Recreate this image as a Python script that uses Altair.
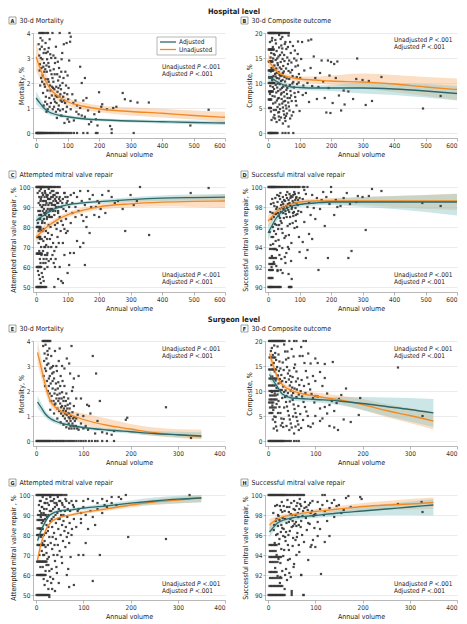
import altair as alt
import pandas as pd

FONT = "Liberation Sans Narrow, DejaVu Sans Condensed, Liberation Sans, sans-serif"
TEAL = "#2d6869"
ORANGE = "#f28a24"
TEAL_BAND = "#8fc8ca"
ORANGE_BAND = "#f7b57c"
PT = "#333333"
W, H = 192, 105


def row(y, xs):
    return [(x, y) for x in xs]


# ---------------- Panel A: hospital, 30-d mortality ----------------
A_PTS = (row(0, [1, 2, 4, 5, 7, 9, 10, 12, 14, 16, 18, 20, 22, 24, 27, 29, 32, 35, 38, 41, 44, 47, 50, 54, 57, 61, 65, 69, 73, 78, 83, 88, 94, 100, 106, 112, 120, 130, 150, 163, 190, 195, 240, 310])
         + row(4, [10, 14, 18, 22, 27, 33, 38, 52, 75, 106])
         + [(140, 2.65), (155, 2.2), (145, 2.0), (200, 1.63), (275, 1.6), (282, 1.35), (300, 1.28), (322, 1.22), (358, 1.22), (548, 0.93), (490, 0.3),
            (207, 1.05), (210, 1.15), (225, 0.95), (245, 1.0), (255, 1.05), (185, 0.75), (190, 0.55), (200, 0.85), (175, 0.45), (168, 0.35), (195, 0.3),
            (235, 0.28), (240, 0.15), (120, 0.5), (100, 0.55), (105, 0.45), (95, 0.85), (85, 0.95), (90, 0.4), (130, 1.1), (140, 1.0), (150, 1.3),
            (160, 1.4), (165, 0.9), (125, 1.3), (115, 1.55), (108, 3.65), (110, 3.85), (105, 2.9), (100, 2.3), (95, 1.9), (90, 1.6), (88, 3.55),
            (80, 2.45), (78, 1.3), (70, 2.1), (65, 1.2), (60, 2.8), (55, 3.1), (50, 1.5), (48, 3.0), (45, 2.5), (42, 1.4), (40, 3.4), (38, 2.15),
            (35, 1.15), (33, 2.7), (30, 3.6), (28, 1.85), (26, 2.45), (24, 3.2), (22, 1.6), (20, 2.95), (18, 3.45), (16, 2.2), (14, 3.8), (12, 2.75),
            (10, 3.1), (8, 3.55), (36, 1.7), (44, 1.9), (52, 2.2), (58, 1.75), (62, 1.5), (68, 1.65), (72, 1.1), (76, 1.9), (82, 1.25), (86, 1.45),
            (92, 1.2), (98, 1.05), (102, 1.35), (110, 0.95), (118, 1.2), (128, 0.85), (135, 0.75), (145, 0.7), (155, 0.65), (47, 1.2), (53, 0.95),
            (57, 1.35), (63, 0.85), (67, 2.35), (73, 2.6), (77, 1.55), (84, 2.0), (30, 2.15), (34, 2.45), (26, 1.95), (21, 2.3), (17, 2.6), (15, 3.0),
            (12, 3.35), (40, 2.05), (46, 1.7), (56, 2.55), (64, 1.85), (74, 1.45), (54, 1.8), (60, 1.25), (70, 0.95), (80, 0.7), (25, 2.8), (32, 3.2),
            (39, 2.8), (20, 3.7), (43, 3.75), (63, 3.45), (83, 3.2), (97, 3.6),
            (11, 2.5), (13, 1.9), (19, 2.05), (23, 2.65), (27, 3.35), (29, 2.55), (31, 1.45), (35, 2.95), (37, 3.25), (41, 2.65), (45, 3.15),
            (49, 2.35), (51, 1.85), (55, 2.05), (59, 2.35), (61, 3.0), (66, 1.45), (69, 2.85), (71, 1.8), (75, 2.25), (79, 1.75), (81, 2.95),
            (87, 2.2), (93, 2.45), (99, 1.55), (103, 1.8), (57, 1.05), (43, 1.05), (37, 0.95), (29, 1.25), (24, 1.1), (33, 0.85), (66, 0.6),
            (76, 0.9), (89, 1.3)])
A_CX = [0, 10, 20, 30, 40, 50, 75, 100, 150, 200, 300, 400, 500, 600]
A_UN = [3.05, 2.68, 2.35, 2.09, 1.86, 1.69, 1.43, 1.25, 1.07, 0.96, 0.86, 0.79, 0.70, 0.63]
A_UN_LO = [2.50, 2.22, 1.98, 1.78, 1.60, 1.47, 1.26, 1.10, 0.93, 0.83, 0.70, 0.62, 0.54, 0.46]
A_UN_HI = [3.62, 3.15, 2.73, 2.42, 2.13, 1.92, 1.61, 1.41, 1.22, 1.10, 1.03, 0.97, 0.90, 0.85]
A_AD = [1.40, 1.23, 1.07, 0.94, 0.85, 0.79, 0.70, 0.65, 0.57, 0.53, 0.48, 0.45, 0.42, 0.40]
A_AD_LO = [1.15, 1.03, 0.91, 0.81, 0.74, 0.69, 0.62, 0.58, 0.51, 0.47, 0.42, 0.38, 0.35, 0.32]
A_AD_HI = [1.66, 1.44, 1.24, 1.08, 0.97, 0.89, 0.78, 0.72, 0.64, 0.59, 0.55, 0.52, 0.50, 0.48]

# ---------------- Panel B: hospital, composite ----------------
B_PTS = (row(20, [1, 3, 5, 7, 9, 11, 13, 15, 17, 19, 21, 23, 25, 28, 31, 34, 37, 40, 43, 46, 50, 54, 58, 62, 66])
         + row(0, [1, 3, 5, 7, 9, 11, 13, 15, 18, 21, 24, 27, 30, 46, 55, 65, 80])
         + row(16.7, [2, 4, 6, 8, 10, 12, 14, 16, 18]) + row(14.3, [2, 4, 6, 8, 10, 12, 14])
         + row(12.5, [2, 4, 6, 8, 10, 12, 14, 16]) + row(11.1, [3, 5, 7, 9, 11, 13])
         + row(10, [2, 4, 6, 8, 10, 12, 14, 16, 18, 20]) + row(8.3, [3, 5, 7, 9, 11, 13, 15])
         + row(6.7, [2, 4, 6, 8, 10]) + row(5, [3, 5, 7, 9])
         + [(12, 18.5), (15, 17.2), (18, 15.8), (20, 13.5), (22, 11.8), (24, 9.6), (26, 8.1), (28, 6.5), (30, 5.2), (32, 4.1), (34, 3.3), (36, 2.6),
            (14, 7.4), (16, 5.9), (18, 4.6), (20, 3.6), (22, 2.9), (25, 17.9), (27, 16.4), (29, 14.9), (31, 13.6), (33, 12.2), (35, 10.9), (37, 9.8),
            (39, 8.7), (41, 7.7), (43, 6.8), (45, 5.9), (47, 5.1), (49, 4.4), (51, 3.7), (53, 3.0), (55, 2.4), (40, 18.8), (42, 17.5), (44, 16.1),
            (46, 14.8), (48, 13.4), (50, 12.3), (52, 11.2), (54, 10.3), (56, 9.5), (58, 8.6), (60, 7.8), (62, 7.0), (64, 6.1), (66, 5.3), (68, 4.5),
            (70, 18.2), (72, 16.0), (74, 14.1), (76, 12.6), (78, 11.4), (80, 10.2), (82, 9.1), (84, 8.0), (86, 7.2), (88, 6.4), (90, 5.5), (10, 16.0),
            (11, 13.0), (13, 10.6), (15, 9.2), (17, 11.4), (19, 8.8), (21, 7.3), (23, 6.1), (24, 14.6), (26, 12.9), (28, 11.0), (30, 9.9), (32, 8.4),
            (34, 7.0), (36, 5.7), (38, 4.8), (38, 15.6), (40, 14.2), (42, 12.8), (44, 11.5), (46, 10.6), (48, 9.3), (50, 8.2), (52, 7.3), (54, 6.4),
            (56, 5.5), (58, 4.9), (60, 3.9), (58, 16.8), (61, 15.1), (63, 13.8), (65, 12.4), (67, 10.8), (69, 9.6), (71, 8.4), (73, 7.5), (75, 6.4),
            (65, 19.5), (55, 18.2), (45, 19.2), (35, 19.6), (95, 13.5), (98, 11.8), (92, 9.8), (96, 8.2), (94, 15.8),
            (6, 18.2), (8, 15.1), (9, 12.3), (7, 9.4), (6, 7.8), (9, 4.3), (11, 2.6), (13, 19.0), (16, 14.9), (19, 12.7), (21, 15.6), (23, 18.6),
            (27, 12.0), (29, 9.1), (31, 6.9), (33, 15.3), (35, 17.1), (37, 13.1), (39, 11.4), (41, 10.4), (43, 8.0), (45, 16.9), (47, 12.0),
            (49, 6.3), (51, 15.6), (53, 17.8), (57, 12.9), (59, 10.9), (61, 9.0), (63, 17.2), (67, 14.5), (69, 7.0), (71, 12.1), (77, 9.9),
            (79, 17.4), (83, 14.9), (87, 13.3), (91, 11.2), (97, 10.1), (17, 3.1), (25, 4.6), (27, 2.2), (35, 4.2), (41, 3.1), (47, 1.9),
            (57, 3.4), (44, 9.0), (36, 11.7), (24, 11.3), (30, 14.0), (52, 14.4),
            (65, 1.3), (70, 2.9), (75, 3.5), (80, 4.2), (85, 16.5), (90, 14.5), (95, 18.3), (100, 4.4), (102, 11.0), (105, 14.8), (108, 18.2),
            (110, 7.6), (112, 9.5), (115, 12.5), (120, 8.0), (125, 10.0), (128, 18.5), (130, 6.2), (135, 13.0), (137, 18.7), (140, 9.4), (145, 15.3),
            (150, 11.0), (155, 6.8), (160, 9.2), (165, 12.0), (170, 14.5), (175, 10.3), (180, 7.0), (185, 4.1), (190, 14.5), (192, 9.0), (195, 11.5),
            (198, 4.0), (200, 14.2), (205, 6.0), (210, 13.8), (215, 11.0), (220, 14.3), (225, 7.5), (232, 4.5), (240, 8.5), (243, 5.7), (255, 8.3),
            (270, 6.8), (283, 14.9), (280, 10.8), (300, 10.6), (310, 5.6), (320, 10.4), (330, 6.4), (360, 11.2), (492, 4.9), (548, 7.4)])
B_CX = [0, 10, 25, 50, 75, 100, 150, 200, 300, 400, 500, 600]
B_UN = [14.6, 13.7, 12.5, 11.5, 11.1, 10.8, 10.6, 10.4, 10.2, 9.8, 9.2, 8.7]
B_UN_LO = [13.2, 12.6, 11.7, 10.9, 10.5, 10.2, 9.9, 9.6, 8.9, 8.2, 7.4, 6.6]
B_UN_HI = [16.0, 14.9, 13.4, 12.1, 11.6, 11.3, 11.3, 11.5, 11.9, 11.6, 11.2, 10.9]
B_AD = [11.3, 11.0, 10.4, 9.6, 9.2, 9.1, 9.0, 9.0, 9.0, 8.8, 8.4, 7.9]
B_AD_LO = [10.4, 10.2, 9.7, 9.0, 8.7, 8.6, 8.5, 8.4, 7.9, 7.6, 7.1, 6.5]
B_AD_HI = [12.2, 11.8, 11.1, 10.2, 9.7, 9.6, 9.5, 9.6, 10.1, 10.0, 9.8, 9.4]

# ---------------- Panel C: hospital, attempted repair ----------------
C_PTS = (row(100, [1, 3, 5, 7, 9, 11, 13, 15, 17, 19, 21, 23, 25, 27, 30, 33, 36, 39, 42, 45, 48, 52, 56, 60, 65, 70, 75])
         + row(50, [1, 3, 5, 7, 9, 11, 13, 15, 18, 21, 25, 28, 32, 58])
         + row(60, [2, 4, 6, 8, 10, 12, 14, 16]) + row(66.7, [2, 4, 6, 8, 10, 12, 14, 16, 18])
         + row(75, [3, 5, 7, 9, 11, 13]) + row(80, [2, 4, 6, 8, 10, 12, 14])
         + [(5, 97), (8, 92), (10, 95), (12, 88), (14, 93), (16, 86), (18, 90), (20, 83), (22, 96), (24, 79), (26, 87), (28, 75), (30, 91),
            (32, 71), (34, 84), (36, 67), (38, 94), (40, 63), (6, 58), (9, 56), (12, 54), (15, 52), (18, 57), (21, 55), (24, 53), (27, 59),
            (30, 62), (33, 64), (36, 60), (11, 98), (13, 84), (15, 94), (17, 78), (19, 90), (21, 88), (23, 73), (25, 84), (27, 82), (29, 97),
            (31, 78), (33, 92), (35, 74), (37, 89), (39, 70), (41, 86), (15, 99), (20, 97), (25, 93), (30, 87), (35, 95), (40, 81), (45, 89),
            (50, 85), (55, 93), (60, 81), (65, 79), (70, 88), (28, 98), (33, 96), (38, 77), (43, 92), (48, 95), (53, 88), (58, 86), (63, 90),
            (68, 82), (73, 94), (78, 78), (40, 99), (45, 97), (50, 91), (55, 98), (60, 91), (65, 95), (70, 87), (75, 85), (80, 83), (85, 81),
            (90, 79), (95, 77), (42, 85), (46, 80), (50, 76), (54, 72), (58, 68), (62, 64), (8, 72), (10, 68), (12, 64), (14, 62), (16, 70),
            (18, 74), (20, 78), (22, 68), (24, 64), (26, 70), (28, 66), (44, 74), (48, 70), (52, 66), (56, 62), (64, 70), (68, 75), (72, 72),
            (50, 98), (55, 96), (60, 94), (65, 97), (70, 92), (75, 95), (80, 90), (85, 94), (90, 97), (95, 88), (100, 93),
            (7, 88), (9, 84), (11, 79), (13, 91), (15, 86), (17, 95), (19, 82), (21, 93), (23, 91), (25, 89), (27, 95), (29, 86), (31, 93),
            (33, 88), (35, 85), (37, 96), (39, 91), (41, 94), (43, 88), (45, 94), (47, 85), (49, 92), (51, 89), (53, 95), (57, 91), (59, 96),
            (61, 88), (63, 93), (67, 92), (69, 97), (71, 90), (77, 93), (83, 92), (87, 89), (93, 95), (97, 92), (8, 78), (12, 74), (17, 66),
            (23, 62), (29, 70), (35, 66), (47, 64), (6, 82), (10, 86), (14, 79),
            (60, 60), (80, 53), (85, 52), (105, 61), (108, 67), (120, 67), (130, 73), (140, 70), (150, 72), (155, 61), (170, 77), (100, 78),
            (110, 82), (125, 85), (135, 88), (150, 83), (160, 85), (175, 90), (185, 86), (195, 93), (200, 92), (210, 96), (230, 98), (240, 95),
            (260, 93), (275, 89), (283, 78), (300, 96), (310, 91), (330, 100), (359, 76), (491, 97), (548, 99.5), (180, 96), (165, 98), (140, 98),
            (120, 97), (100, 95), (90, 97), (105, 90), (115, 92), (125, 90), (145, 93), (155, 91), (190, 90), (205, 89), (220, 87), (250, 92),
            (320, 93), (200, 85), (110, 96), (130, 95), (170, 94), (95, 84), (115, 87), (145, 86), (160, 80), (85, 72), (90, 66), (100, 57),
            (75, 60), (70, 54)])
C_CX = [0, 10, 25, 50, 75, 100, 150, 200, 300, 400, 500, 600]
C_AD = [83.1, 84.3, 85.9, 88.4, 90.1, 91.1, 92.1, 92.7, 93.7, 94.4, 94.7, 94.9]
C_AD_LO = [80.5, 82.2, 84.3, 87.3, 89.2, 90.3, 91.3, 91.8, 92.5, 93.0, 93.2, 93.3]
C_AD_HI = [85.7, 86.4, 87.5, 89.5, 91.0, 91.9, 92.9, 93.6, 94.9, 95.8, 96.2, 96.5]
C_UN = [74.8, 76.5, 78.8, 81.8, 84.3, 86.1, 88.4, 90.1, 91.6, 92.4, 92.8, 93.0]
C_UN_LO = [72.2, 74.2, 76.8, 80.3, 83.0, 84.8, 87.1, 88.6, 89.8, 90.2, 90.0, 89.5]
C_UN_HI = [77.4, 78.8, 80.8, 83.3, 85.6, 87.4, 89.7, 91.6, 93.4, 94.6, 95.6, 96.5]

# ---------------- Panel D: hospital, successful repair ----------------
D_PTS = (row(100, [1, 3, 5, 7, 9, 11, 13, 15, 17, 19, 21, 23, 25, 28, 31, 34, 37, 40, 44, 48, 52, 56, 60, 65, 70, 75, 80, 85, 90, 95, 100, 110, 115, 125])
         + row(90, [1, 3, 5, 7, 9, 11, 13, 16, 19, 22, 25, 28, 31, 34, 37, 40, 66, 68, 70, 72, 74])
         + row(90.9, [2, 5, 8, 11, 14]) + row(91.7, [3, 6, 9, 12, 15, 30, 40]) + row(92.3, [4, 8, 12, 16, 20])
         + row(92.9, [5, 10, 15, 20, 25]) + row(93.8, [6, 12, 18, 24])
         + [(5, 95.5), (8, 94.2), (10, 96.8), (12, 93.1), (14, 97.4), (16, 95.0), (18, 92.5), (20, 98.1), (22, 96.3), (24, 94.6), (26, 97.8),
            (28, 93.7), (30, 98.5), (32, 95.8), (34, 97.1), (36, 94.1), (38, 98.8), (40, 96.6), (42, 92.8), (44, 97.9), (46, 95.4), (48, 98.3),
            (50, 96.9), (52, 94.9), (54, 98.6), (56, 97.3), (58, 93.4), (60, 98.9), (62, 96.1), (64, 97.7), (66, 95.2), (68, 98.4), (70, 97.0),
            (72, 99.1), (74, 94.4), (76, 98.0), (78, 96.4), (80, 99.2), (82, 97.5), (84, 95.9), (86, 98.7), (88, 97.2), (90, 99.0), (92, 96.0),
            (94, 98.2), (96, 97.6), (98, 95.0), (100, 98.9), (15, 96.0), (25, 95.3), (35, 96.2), (45, 93.9), (55, 92.4), (65, 91.3), (75, 90.8),
            (20, 93.8), (30, 91.6), (40, 97.5), (50, 98.0), (60, 97.9), (70, 98.2), (80, 97.1), (90, 98.4), (18, 97.0), (28, 98.0), (38, 96.9),
            (48, 97.4), (58, 98.1), (68, 99.3), (78, 98.6), (88, 96.6), (35, 99.1), (45, 98.5), (55, 97.6), (65, 98.7), (75, 97.8), (85, 99.3),
            (95, 98.7), (25, 97.3), (33, 94.7), (43, 95.8), (53, 93.0), (63, 94.0), (73, 92.6),
            (7, 97.5), (9, 98.3), (11, 95.0), (13, 98.8), (17, 98.4), (19, 95.6), (21, 97.3), (23, 98.9), (27, 96.2), (29, 99.2), (31, 97.4),
            (37, 97.8), (39, 99.4), (41, 98.2), (43, 96.4), (47, 99.0), (49, 97.8), (51, 98.7), (57, 99.2), (59, 97.0), (61, 99.5), (63, 98.3),
            (67, 97.5), (69, 96.3), (71, 98.9), (77, 99.0), (79, 97.4), (81, 98.4), (83, 99.5), (87, 97.9), (89, 98.9), (93, 97.3), (97, 99.4),
            (26, 92.1), (36, 93.2), (46, 91.4), (16, 94.3), (56, 95.1), (66, 93.8), (11, 92.0),
            (100, 93.5), (110, 94.5), (115, 96.5), (120, 92.9), (125, 93.7), (130, 95.3), (140, 94.8), (150, 96.8), (160, 91.7), (165, 97.8),
            (170, 98.7), (180, 96.1), (185, 99.0), (190, 92.9), (200, 99.5), (200, 100), (210, 97.2), (220, 98.0), (240, 98.9), (250, 99.4),
            (255, 92.9), (265, 93.6), (280, 98.5), (285, 99.1), (310, 95.7), (320, 99.1), (330, 99.8), (360, 99.6), (490, 98.4), (548, 98.1),
            (105, 97.5), (110, 98.8), (120, 99.3), (130, 98.4), (140, 99.2), (145, 97.9), (155, 98.9), (175, 99.5), (195, 98.3), (215, 98.7),
            (230, 98.1), (260, 98.3), (300, 99.0), (115, 99.7), (135, 97.2), (125, 98.0)])
D_CX = [0, 10, 25, 50, 75, 100, 150, 200, 300, 400, 500, 600]
D_UN = [96.6, 96.95, 97.5, 98.0, 98.3, 98.5, 98.6, 98.6, 98.6, 98.6, 98.6, 98.6]
D_UN_LO = [96.0, 96.45, 97.1, 97.7, 98.05, 98.25, 98.35, 98.3, 98.2, 98.0, 97.8, 97.7]
D_UN_HI = [97.2, 97.45, 97.9, 98.3, 98.55, 98.75, 98.85, 98.9, 99.0, 99.1, 99.2, 99.35]
D_AD = [95.4, 96.0, 96.85, 97.7, 98.1, 98.25, 98.4, 98.5, 98.5, 98.5, 98.5, 98.5]
D_AD_LO = [94.6, 95.4, 96.4, 97.35, 97.8, 98.0, 98.15, 98.2, 98.0, 97.8, 97.5, 97.15]
D_AD_HI = [96.2, 96.6, 97.3, 98.05, 98.4, 98.5, 98.65, 98.8, 99.0, 99.1, 99.2, 99.3]

# ---------------- Panel E: surgeon, 30-d mortality ----------------
E_PTS = (row(0, [1, 2, 4, 6, 8, 10, 12, 14, 16, 18, 20, 22, 24, 26, 28, 30, 33, 36, 39, 42, 45, 48, 51, 54, 57, 60, 64, 68, 72, 76, 80, 85, 90, 95, 100, 105, 112, 118, 125, 130, 140, 150, 165])
         + row(4, [14, 16, 18, 20, 22, 24, 26, 28, 30])
         + [(15, 3.8), (18, 3.5), (20, 3.85), (22, 3.3), (24, 3.6), (26, 3.1), (28, 3.7), (30, 2.9), (32, 3.4), (34, 2.7), (36, 3.0), (38, 2.5),
            (40, 3.6), (42, 2.3), (44, 2.8), (46, 2.1), (48, 3.2), (50, 1.9), (52, 2.6), (54, 1.7), (56, 2.4), (58, 1.6), (60, 2.2), (62, 1.4),
            (64, 1.9), (66, 1.3), (68, 1.7), (70, 1.1), (72, 1.5), (74, 1.0), (76, 2.0), (78, 0.9), (80, 1.4), (82, 0.8), (16, 2.6), (19, 2.2),
            (21, 2.8), (23, 2.4), (25, 2.0), (27, 2.5), (29, 1.9), (31, 2.3), (33, 1.8), (35, 2.1), (37, 1.6), (39, 1.9), (41, 1.5), (43, 1.7),
            (45, 1.3), (47, 1.6), (49, 1.2), (51, 1.5), (53, 1.1), (55, 1.4), (57, 1.0), (59, 1.3), (61, 0.9), (63, 1.2), (65, 0.8), (67, 1.1),
            (69, 0.7), (71, 0.9), (73, 0.6), (75, 0.5), (77, 0.7), (79, 0.6), (81, 0.5), (84, 0.6), (87, 0.5), (90, 0.45), (50, 3.7), (55, 3.0),
            (60, 2.9), (65, 3.3), (70, 3.1), (72, 2.7), (75, 3.8), (80, 2.5), (78, 2.15), (85, 1.7), (90, 2.6), (95, 1.7), (100, 1.0), (105, 0.6),
            (108, 1.45), (112, 1.4), (115, 1.1), (120, 3.4), (127, 2.7), (135, 1.6), (130, 0.8), (150, 0.3), (160, 0.25), (165, 0.4), (190, 0.85),
            (193, 0.93), (275, 1.35), (328, 0.12), (140, 0.35), (125, 0.3), (100, 0.5), (95, 0.7), (110, 0.45), (85, 0.9), (88, 1.05),
            (17, 3.2), (19, 2.9), (23, 3.05), (25, 3.45), (27, 2.2), (29, 2.6), (31, 1.6), (33, 2.95), (35, 2.4), (37, 2.75), (39, 1.45),
            (41, 2.05), (43, 3.0), (45, 1.85), (47, 2.35), (49, 1.7), (51, 2.2), (53, 1.35), (55, 1.95), (57, 1.2), (59, 1.75), (61, 1.1),
            (63, 1.6), (65, 1.05), (67, 1.45), (69, 0.95), (71, 1.3), (73, 0.8), (77, 1.15), (81, 0.95), (45, 0.9), (52, 0.75), (58, 0.65),
            (64, 0.55), (70, 0.5), (38, 1.1), (30, 1.25)])
E_CX = [3, 10, 20, 30, 40, 50, 75, 100, 150, 200, 250, 300, 350]
E_UN = [3.54, 3.0, 2.2, 1.62, 1.36, 1.23, 1.03, 0.86, 0.63, 0.48, 0.33, 0.25, 0.17]
E_UN_LO = [3.1, 2.6, 1.9, 1.42, 1.2, 1.08, 0.88, 0.68, 0.45, 0.33, 0.20, 0.12, 0.07]
E_UN_HI = [4.0, 3.4, 2.5, 1.82, 1.52, 1.38, 1.2, 1.1, 0.9, 0.68, 0.54, 0.47, 0.45]
E_AD = [1.56, 1.36, 1.07, 0.9, 0.8, 0.73, 0.62, 0.54, 0.44, 0.37, 0.30, 0.25, 0.2]
E_AD_LO = [1.32, 1.16, 0.93, 0.79, 0.70, 0.64, 0.55, 0.47, 0.37, 0.29, 0.21, 0.15, 0.10]
E_AD_HI = [1.80, 1.56, 1.21, 1.01, 0.90, 0.82, 0.69, 0.61, 0.51, 0.45, 0.40, 0.37, 0.35]

# ---------------- Panel F: surgeon, composite ----------------
F_PTS = (row(20, [2, 4, 6, 8, 10, 12, 14, 16, 18, 20, 22, 24, 26, 28, 30, 32, 35, 45, 55, 60, 75, 80])
         + row(0, [1, 3, 5, 7, 9, 11, 13, 15, 17, 19, 21, 23, 25, 27, 29, 31, 33, 36, 40, 44, 48, 55, 60, 65])
         + row(16.7, [3, 6, 9, 12, 15]) + row(14.3, [2, 5, 8, 11, 14, 17]) + row(12.5, [3, 6, 9, 12, 15, 18])
         + row(11.1, [2, 5, 8, 11, 14]) + row(10, [3, 6, 9, 12, 15, 18, 21]) + row(9.1, [4, 8, 12, 16])
         + row(8.3, [3, 6, 9, 12, 15, 18]) + row(7.7, [2, 5, 8, 11]) + row(6.7, [4, 8, 12, 16]) + row(5.6, [3, 6, 9])
         + [(8, 18.6), (10, 17.2), (12, 15.6), (14, 13.9), (16, 12.1), (18, 10.6), (20, 9.3), (22, 8.0), (24, 6.8), (26, 5.6), (28, 4.5),
            (30, 3.6), (32, 2.8), (11, 6.2), (13, 4.9), (15, 3.8), (17, 2.9), (19, 2.1), (20, 18.9), (22, 17.3), (24, 15.9), (26, 14.5),
            (28, 13.2), (30, 12.0), (32, 10.9), (34, 9.8), (36, 8.8), (38, 7.8), (40, 6.9), (42, 6.0), (44, 5.1), (46, 4.3), (48, 3.5),
            (50, 2.7), (34, 19.3), (36, 17.9), (38, 16.3), (40, 14.8), (42, 13.5), (44, 12.3), (46, 11.1), (48, 10.1), (50, 9.1), (52, 8.2),
            (54, 7.3), (56, 6.4), (58, 5.6), (60, 4.8), (62, 4.0), (64, 3.3), (50, 18.4), (54, 16.9), (57, 15.3), (60, 13.9), (63, 12.5),
            (66, 11.2), (69, 10.0), (72, 8.9), (75, 7.8), (78, 6.8), (81, 5.9), (84, 5.0), (70, 18.8), (73, 17.0), (77, 15.6), (80, 14.0),
            (83, 12.7), (86, 11.4), (89, 10.3), (92, 9.4), (95, 8.6), (98, 7.7), (55, 1.5), (65, 2.2), (70, 2.6), (14, 9.5), (18, 7.4),
            (22, 11.5), (26, 10.2), (30, 8.6), (34, 6.7), (38, 11.8), (42, 9.6), (46, 7.9), (52, 12.8), (56, 10.5), (60, 8.8), (64, 7.0),
            (68, 5.4), (74, 4.2),
            (6, 18.0), (7, 15.2), (9, 12.9), (8, 9.8), (9, 7.1), (10, 4.3), (12, 2.5), (13, 19.1), (15, 17.6), (17, 16.2), (19, 14.8),
            (21, 13.1), (23, 14.0), (25, 12.4), (27, 11.7), (29, 10.2), (31, 15.7), (33, 14.2), (35, 12.6), (37, 10.1), (39, 9.0), (41, 17.9),
            (43, 16.6), (45, 14.1), (47, 13.0), (49, 11.8), (51, 10.7), (53, 9.6), (55, 14.6), (59, 11.9), (61, 10.3), (65, 9.3), (67, 17.0),
            (71, 12.2), (76, 11.0), (79, 9.6), (16, 4.8), (21, 5.6), (27, 3.1), (33, 4.4), (39, 3.0), (45, 2.2), (53, 4.9), (58, 2.9),
            (275, 14.7), (327, 5.0), (195, 8.6), (192, 5.2), (165, 10.5), (175, 3.8), (160, 4.3), (148, 2.2), (140, 2.7), (130, 3.0),
            (137, 15.8), (120, 15.4), (110, 4.0), (115, 4.5), (100, 9.0), (105, 8.9), (100, 12.0), (105, 15.6), (110, 13.8), (115, 11.0),
            (120, 12.6), (125, 9.5), (130, 7.2), (135, 8.0), (140, 6.0), (145, 7.6), (150, 8.4), (155, 9.2), (110, 6.5), (120, 6.8),
            (100, 5.0), (95, 3.5), (90, 2.8), (85, 3.0), (125, 5.5), (100, 16.5), (90, 15.5), (95, 13.0), (85, 17.5)])
F_CX = [3, 10, 20, 30, 50, 75, 100, 150, 200, 250, 300, 350]
F_UN = [17.5, 15.4, 12.7, 11.3, 10.1, 9.4, 9.0, 8.25, 7.3, 6.1, 5.1, 4.0]
F_UN_LO = [16.0, 14.2, 11.9, 10.6, 9.5, 8.8, 8.3, 7.4, 6.2, 4.8, 3.6, 2.3]
F_UN_HI = [19.0, 16.6, 13.5, 12.0, 10.7, 10.0, 9.7, 9.1, 8.4, 7.4, 6.6, 5.8]
F_AD = [13.3, 12.2, 10.8, 9.4, 8.6, 8.45, 8.3, 8.0, 7.5, 6.9, 6.3, 5.6]
F_AD_LO = [12.1, 11.3, 10.0, 8.8, 8.1, 7.9, 7.75, 7.2, 6.2, 5.0, 3.9, 2.8]
F_AD_HI = [14.5, 13.1, 11.6, 10.0, 9.1, 9.0, 8.85, 8.8, 8.8, 8.7, 8.6, 8.4]

# ---------------- Panel G: surgeon, attempted repair ----------------
G_PTS = (row(100, [1, 3, 5, 7, 9, 11, 13, 15, 17, 19, 21, 23, 25, 27, 29, 31, 33, 35, 38, 41, 44, 47, 50, 53, 56, 60, 64])
         + row(50, [1, 3, 5, 7, 9, 11, 13, 15, 17, 19, 21, 23, 25, 28])
         + row(60, [2, 4, 6, 8, 10, 12, 14, 16, 18, 20]) + row(66.7, [2, 4, 6, 8, 10, 12, 14, 16, 18, 20, 22])
         + row(75, [3, 5, 7, 9, 11, 13, 15, 17]) + row(80, [2, 4, 6, 8, 10, 12, 14, 16])
         + row(87.5, [3, 6, 9, 12, 15]) + row(90, [4, 8, 12, 16, 20]) + row(83.3, [3, 6, 9, 12])
         + [(6, 95), (8, 92), (10, 89), (12, 86), (14, 83), (16, 80), (18, 77), (20, 74), (22, 71), (24, 68), (26, 65), (28, 62), (30, 59),
            (32, 56), (34, 53), (10, 97), (13, 94), (16, 91), (19, 88), (22, 85), (25, 82), (28, 79), (31, 76), (34, 73), (37, 70), (40, 67),
            (43, 64), (14, 99), (18, 96), (22, 93), (26, 90), (30, 87), (34, 84), (38, 81), (42, 78), (46, 75), (50, 72), (54, 69), (22, 98),
            (27, 95), (32, 92), (37, 89), (42, 86), (47, 83), (52, 80), (57, 77), (62, 74), (30, 99), (35, 97), (40, 94), (45, 91), (50, 88),
            (55, 85), (60, 82), (65, 79), (70, 76), (38, 98), (43, 96), (48, 93), (53, 90), (58, 87), (63, 84), (68, 81), (46, 99), (51, 97),
            (56, 95), (61, 92), (66, 89), (71, 86), (76, 83), (12, 72), (14, 64), (16, 58), (18, 55), (20, 62), (24, 57), (26, 53), (28, 49),
            (36, 58), (40, 52), (44, 61), (48, 56), (15, 70), (25, 75), (35, 79), (45, 70), (55, 66), (62, 98), (70, 96), (78, 95), (85, 97),
            (90, 93), (95, 91), (100, 97),
            (8, 97), (9, 83), (11, 91), (12, 94), (15, 87), (17, 93), (19, 96), (20, 90), (21, 81), (23, 89), (24, 96), (26, 84), (29, 92),
            (31, 97), (33, 88), (36, 93), (39, 96), (41, 90), (44, 95), (47, 88), (49, 97), (52, 92), (55, 96), (58, 90), (60, 94), (64, 97),
            (67, 93), (72, 92), (75, 97), (80, 94), (10, 79), (13, 76), (17, 70), (22, 65), (27, 69), (33, 63), (39, 75), (11, 60), (7, 70),
            (9, 64),
            (190, 100), (325, 100), (195, 79), (275, 78), (100, 70), (135, 70), (70, 54), (80, 55), (65, 60), (120, 57), (90, 70), (110, 83),
            (125, 85), (105, 76), (85, 84), (95, 86), (80, 88), (75, 80), (68, 63), (73, 69), (110, 98), (120, 97), (130, 96), (140, 98),
            (150, 97), (160, 96), (170, 95), (100, 94), (115, 92), (130, 93), (140, 91), (105, 90), (95, 88), (88, 92), (120, 89), (150, 94),
            (175, 99), (180, 98), (160, 99), (145, 95)])
G_CX = [3, 10, 20, 30, 50, 75, 100, 150, 200, 250, 300, 350]
G_UN = [67.5, 75.2, 82.3, 86.0, 88.8, 90.1, 91.3, 93.1, 95.0, 96.5, 97.5, 98.5]
G_UN_LO = [65.0, 73.5, 81.2, 85.2, 88.1, 89.4, 90.5, 92.1, 93.8, 95.0, 95.8, 96.5]
G_UN_HI = [70.0, 76.9, 83.4, 86.8, 89.5, 90.8, 92.1, 94.1, 96.2, 97.8, 99.0, 100.0]
G_AD = [77.2, 81.8, 86.8, 90.1, 92.1, 92.6, 93.4, 94.6, 95.9, 97.0, 97.9, 98.5]
G_AD_LO = [75.0, 80.0, 85.5, 89.2, 91.3, 91.8, 92.5, 93.5, 94.5, 95.3, 95.9, 96.2]
G_AD_HI = [79.4, 83.6, 88.1, 91.0, 92.9, 93.4, 94.3, 95.7, 97.3, 98.7, 99.6, 100.0]

# ---------------- Panel H: surgeon, successful repair ----------------
H_PTS = (row(100, [1, 3, 5, 7, 9, 11, 13, 15, 17, 19, 21, 23, 25, 27, 29, 31, 33, 35, 37, 40, 43, 46, 49, 52, 55, 58, 61, 64, 67, 70, 73, 76, 115, 120])
         + row(90, [1, 3, 5, 7, 9, 11, 13, 15, 17, 19, 21, 23, 25, 27, 29, 31, 33, 35, 50, 75])
         + row(90.9, [3, 6, 9, 12, 15, 18, 21, 24, 27, 30]) + row(91.7, [4, 8, 12, 16, 20, 24, 28])
         + row(92.3, [3, 6, 9, 12, 15, 18]) + row(93.3, [4, 8, 12, 16, 20])
         + row(93.8, [3, 6, 9, 12, 15, 18, 21, 24, 27]) + row(94.4, [4, 8, 12, 16]) + row(95, [3, 6, 9, 12, 15, 18])
         + [(12, 96.5), (14, 95.2), (16, 97.4), (18, 94.0), (20, 96.1), (22, 97.9), (24, 95.6), (26, 93.2), (28, 97.0), (30, 98.3),
            (32, 95.9), (34, 94.5), (36, 97.6), (38, 96.3), (40, 98.8), (42, 95.0), (44, 97.3), (46, 93.6), (48, 98.1), (50, 96.8),
            (52, 94.9), (54, 98.6), (56, 97.1), (58, 95.5), (60, 98.9), (62, 96.2), (64, 97.8), (66, 94.3), (68, 99.1), (70, 97.4),
            (72, 96.0), (74, 98.4), (76, 95.3), (78, 99.3), (80, 97.7), (82, 96.5), (84, 98.5), (86, 99.0), (88, 97.1), (90, 98.2),
            (92, 95.0), (94, 99.4), (96, 97.9), (98, 96.7), (15, 92.7), (20, 91.9), (25, 91.2), (30, 92.4), (35, 90.6), (40, 91.5),
            (45, 92.2), (50, 90.4), (55, 93.1), (60, 94.0), (65, 95.0), (70, 92.0), (38, 92.6), (28, 94.6), (42, 93.5), (48, 91.8),
            (24, 97.5), (30, 96.7), (36, 95.8), (44, 98.3), (52, 97.4), (58, 98.0), (62, 99.2), (66, 98.6), (70, 98.9), (33, 98.9),
            (27, 98.5), (21, 98.0), (18, 97.6), (46, 96.4), (53, 95.7), (60, 96.9),
            (11, 98.2), (13, 97.0), (15, 98.9), (17, 96.0), (19, 99.0), (21, 96.9), (23, 95.1), (25, 98.9), (27, 96.3), (29, 99.3),
            (31, 97.7), (33, 96.6), (35, 98.4), (37, 95.4), (39, 97.2), (41, 99.5), (43, 96.0), (45, 98.8), (47, 97.6), (49, 99.2),
            (51, 98.0), (53, 96.9), (55, 99.4), (57, 98.5), (59, 97.3), (61, 95.8), (63, 98.2), (65, 97.0), (67, 99.6), (69, 96.8),
            (73, 97.9), (77, 98.7), (81, 98.8), (85, 97.2), (89, 99.2), (93, 98.4), (97, 98.0), (22, 93.6), (32, 93.9), (26, 91.8),
            (36, 92.0), (44, 94.5), (54, 92.8),
            (165, 99.7), (170, 99.9), (195, 99.8), (198, 99.6), (175, 98.8), (275, 99.1), (325, 99.3), (327, 98.3), (145, 98.9), (130, 98.7),
            (120, 98.4), (115, 99.0), (110, 98.6), (105, 97.3), (100, 94.8), (112, 92.1), (120, 95.3), (130, 95.9), (70, 92.0), (75, 90.0),
            (50, 90.2), (105, 99.3), (125, 99.4), (135, 99.2), (140, 97.8), (150, 99.0), (155, 98.2), (160, 98.5), (100, 98.1), (110, 96.6),
            (125, 97.4), (95, 95.5), (90, 94.8), (85, 93.5), (105, 95.9), (140, 99.5), (118, 98.0)])
H_CX = [3, 10, 20, 30, 50, 100, 150, 200, 250, 300, 350]
H_UN = [97.0, 97.3, 97.6, 97.8, 98.0, 98.35, 98.6, 98.85, 99.0, 99.1, 99.25]
H_UN_LO = [96.4, 96.85, 97.3, 97.55, 97.8, 98.1, 98.3, 98.45, 98.5, 98.55, 98.6]
H_UN_HI = [97.6, 97.75, 97.9, 98.05, 98.2, 98.6, 98.9, 99.2, 99.4, 99.6, 99.75]
H_AD = [96.3, 96.7, 97.2, 97.45, 97.7, 97.95, 98.2, 98.4, 98.6, 98.8, 99.0]
H_AD_LO = [95.7, 96.25, 96.85, 97.15, 97.4, 97.7, 97.85, 97.95, 98.0, 98.0, 97.95]
H_AD_HI = [96.9, 97.15, 97.55, 97.75, 98.0, 98.2, 98.5, 98.8, 99.1, 99.35, 99.6]

X600 = [0, 100, 200, 300, 400, 500, 600]
X400 = [0, 100, 200, 300, 400]
Y_MORT = [0, 1, 2, 3, 4]
Y_COMP = [0, 5, 10, 15, 20]
Y_ATT = [50, 60, 70, 80, 90, 100]
Y_SUC = [90, 92, 94, 96, 98, 100]

TS = 6.5  # annotation font size


def one(s, x, y, size=TS, align="left", weight="normal", style="normal", color="#222222"):
    return alt.Chart(pd.DataFrame({"t": [s]})).mark_text(
        align=align, baseline="middle", font=FONT, fontSize=size, fontWeight=weight,
        fontStyle=style, color=color).encode(x=alt.value(x), y=alt.value(y), text="t:N")


def box(x1, x2, y1, y2, stroke="#666666"):
    return alt.Chart(pd.DataFrame({"a": [0]})).mark_rect(
        fill="white", stroke=stroke, strokeWidth=0.6).encode(
        x=alt.value(x1), x2=alt.value(x2), y=alt.value(y1), y2=alt.value(y2))


def hrule(x1, x2, y, color):
    return alt.Chart(pd.DataFrame({"a": [0]})).mark_rule(color=color, strokeWidth=1.3).encode(
        x=alt.value(x1), x2=alt.value(x2), y=alt.value(y))


def panel(letter, title, ylab, pts, cx, ad, ad_lo, ad_hi, un, un_lo, un_hi,
          xmax, xticks, ydom, yticks, py, legend=False, header=None):
    pdf = pd.DataFrame(pts, columns=["x", "y"])
    cdf = pd.DataFrame({"x": cx, "ad": ad, "ad_lo": ad_lo, "ad_hi": ad_hi,
                        "un": un, "un_lo": un_lo, "un_hi": un_hi})
    xs = alt.Scale(domain=[-xmax / 61.0, xmax], nice=False, zero=False)
    ys = alt.Scale(domain=ydom, nice=False, zero=False)
    xax = alt.Axis(values=xticks, title="Annual volume", grid=False, tickSize=3,
                   labelPadding=1, titlePadding=2, format="d")
    yax = alt.Axis(values=yticks, title=ylab, grid=True, tickSize=2,
                   labelPadding=1, titlePadding=2, format="d")
    X = alt.X("x:Q", scale=xs, axis=xax)

    def Y(f):
        return alt.Y(f, type="quantitative", scale=ys, axis=yax)

    base = alt.Chart(cdf)
    layers = [
        base.mark_area(color=ORANGE_BAND, opacity=0.45, clip=True, interpolate="monotone").encode(
            x=X, y=Y("un_lo"), y2="un_hi"),
        base.mark_area(color=TEAL_BAND, opacity=0.45, clip=True, interpolate="monotone").encode(
            x=X, y=Y("ad_lo"), y2="ad_hi"),
        alt.Chart(pdf).mark_square(size=5, color=PT, opacity=0.9).encode(x=X, y=Y("y")),
        base.mark_line(color=ORANGE, strokeWidth=1.3, clip=True, interpolate="monotone").encode(x=X, y=Y("un")),
        base.mark_line(color=TEAL, strokeWidth=1.3, clip=True, interpolate="monotone").encode(x=X, y=Y("ad")),
        box(-24, -17, -16, -9),
        one(letter, -20.5, -12.3, size=5.5, align="center", weight="bold"),
        one(title, -13.5, -12.3, size=7),
    ]
    px = 129
    for i, (lab, p_off, r_off) in enumerate([("Unadjusted", 35.1, 40.5), ("Adjusted", 27.6, 33.0)]):
        yy = py + 7 * i
        layers += [one(lab, px, yy),
                   one("P", px + p_off, yy, style="italic"),
                   one("<.001", px + r_off, yy)]
    if legend:
        layers += [box(124, 183, 4, 22, stroke="#888888"),
                   hrule(127, 143, 9, TEAL), hrule(127, 143, 16.5, ORANGE),
                   one("Adjusted", 146, 9), one("Unadjusted", 146, 16.5)]
    if header:
        layers.append(one(header, 201, -21, size=7.5, align="center", weight="bold"))
    return alt.layer(*layers).properties(width=W, height=H)


panels = [
    panel("A", "30-d Mortality", "Mortality, %", A_PTS, A_CX, A_AD, A_AD_LO, A_AD_HI, A_UN, A_UN_LO, A_UN_HI,
          600, X600, [-0.2, 4], Y_MORT, 34, legend=True, header="Hospital level"),
    panel("B", "30-d Composite outcome", "Composite, %", B_PTS, B_CX, B_AD, B_AD_LO, B_AD_HI, B_UN, B_UN_LO, B_UN_HI,
          600, X600, [-1, 20], Y_COMP, 7),
    panel("C", "Attempted mitral valve repair", "Attempted mitral valve repair , %", C_PTS, C_CX, C_AD, C_AD_LO, C_AD_HI,
          C_UN, C_UN_LO, C_UN_HI, 600, X600, [47.5, 100], Y_ATT, 88),
    panel("D", "Successful mitral valve repair", "Successful mitral valve repair, %", D_PTS, D_CX, D_AD, D_AD_LO, D_AD_HI,
          D_UN, D_UN_LO, D_UN_HI, 600, X600, [89.5, 100], Y_SUC, 88),
    panel("E", "30-d Mortality", "Mortality, %", E_PTS, E_CX, E_AD, E_AD_LO, E_AD_HI, E_UN, E_UN_LO, E_UN_HI,
          400, X400, [-0.2, 4], Y_MORT, 8, header="Surgeon level"),
    panel("F", "30-d Composite outcome", "Composite, %", F_PTS, F_CX, F_AD, F_AD_LO, F_AD_HI, F_UN, F_UN_LO, F_UN_HI,
          400, X400, [-1, 20], Y_COMP, 8),
    panel("G", "Attempted mitral valve repair", "Attempted mitral valve repair , %", G_PTS, G_CX, G_AD, G_AD_LO, G_AD_HI,
          G_UN, G_UN_LO, G_UN_HI, 400, X400, [47.5, 100], Y_ATT, 89),
    panel("H", "Successful mitral valve repair", "Successful mitral valve repair, %", H_PTS, H_CX, H_AD, H_AD_LO, H_AD_HI,
          H_UN, H_UN_LO, H_UN_HI, 400, X400, [89.5, 100], Y_SUC, 89),
]

chart = alt.concat(*panels, columns=2, spacing={"row": 49, "column": 40}, bounds="flush").properties(
    padding={"left": 0, "top": 0, "right": 0, "bottom": 0}
).configure_view(stroke=None).configure_axis(
    labelFont=FONT, titleFont=FONT, labelFontSize=6.5, titleFontSize=7, labelColor="#333333",
    titleColor="#222222", titleFontWeight="normal", domainColor="#999999", domainWidth=0.7,
    tickColor="#999999", tickWidth=0.7, gridColor="#e3e3e3", gridWidth=0.7
)

chart.save("out.html", embed_options={"renderer": "svg", "actions": False})
